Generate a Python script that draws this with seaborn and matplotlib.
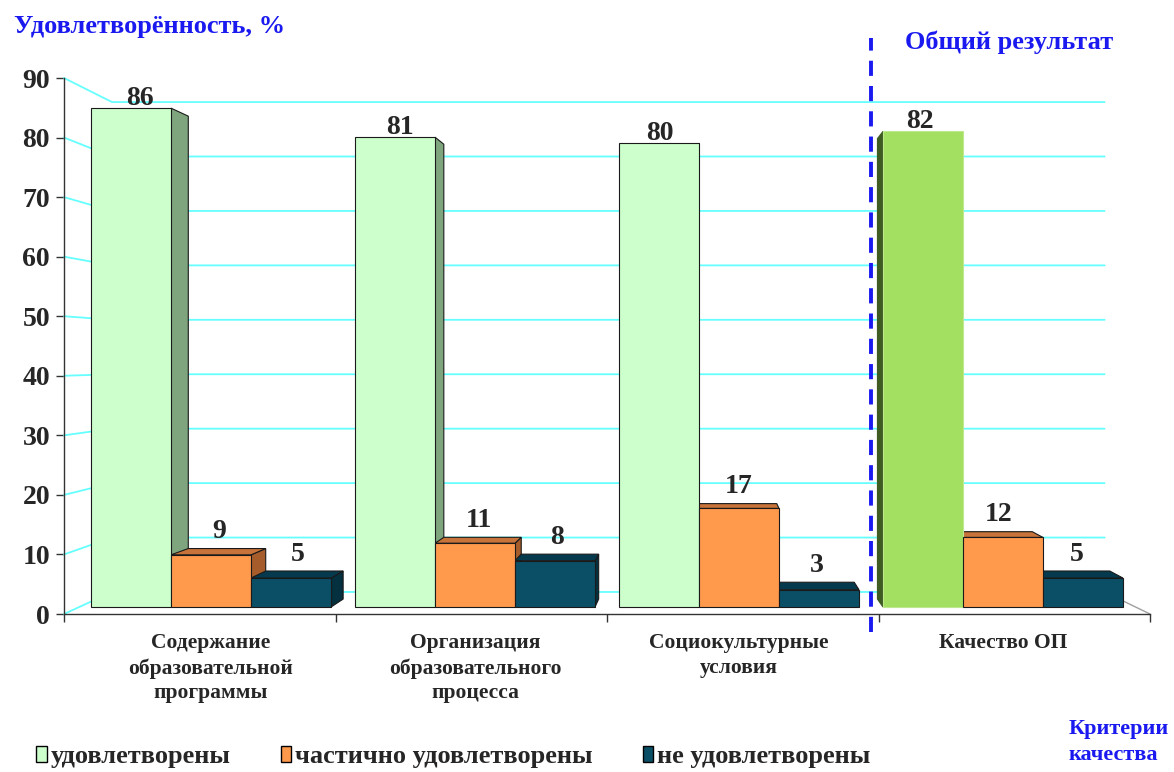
"""
plot.py
-------
Удовлетворённость качеством ОП: псевдо-3D столбики (seaborn + matplotlib).
"""

import matplotlib
matplotlib.use('Agg')
import matplotlib.pyplot as plt
import pandas as pd
import seaborn as sns
from matplotlib.patches import Polygon

# ── Data ───────────────────────────────────────────────────────────────
categories = ['Содержание\nобразовательной\nпрограммы',
              'Организация\nобразовательного\nпроцесса',
              'Социокультурные\nусловия',
              'Качество ОП']
series_names = ['удовлетворены', 'частично удовлетворены', 'не удовлетворены']
satisfied     = [86, 81, 80, 82]
partly        = [9, 11, 17, 12]
not_satisfied = [5, 8, 3, 5]
y_ticks = [0, 10, 20, 30, 40, 50, 60, 70, 80, 90]

# ── Style ──────────────────────────────────────────────────────────────
front_colors = ['#CCFFCC', '#FF9A4D', '#0B4F67']
top_colors   = ['#A8D4A8', '#C8733A', '#053A4E']
side_colors  = ['#7FA57F', '#A65C2B', '#04303F']
total_color, total_edge, total_side = '#A3DF60', '#BFE98F', '#3E5B22'
blue = '#1A1AF0'
grid_color = '#66FFFF'

sns.set_style('white')
plt.rcParams['font.family'] = ['Liberation Serif', 'DejaVu Serif']
plt.rcParams['font.weight'] = 'bold'

df = pd.DataFrame({
    'category': categories * 3,
    'group': [s for s in series_names for _ in categories],
    'value': satisfied + partly + not_satisfied,
})

fig = plt.figure(figsize=(11.74, 7.72), dpi=100)
rect = [64 / 1174, 1 - 614 / 772, (1150 - 64) / 1174, (614 - 78) / 772]
ax_w = fig.add_axes(rect)              # front axis + back walls
ax = fig.add_axes(rect, zorder=2)      # bars
ax.patch.set_alpha(0)

# ── Walls / grid (perspective towards a vanishing point) ──────────────
ax_w.set_xlim(0, 4)
ax_w.set_ylim(0, 90)
ax_w.set_yticks(y_ticks)
ax_w.set_xticks(range(5))
ax_w.set_xticklabels([])
ax_w.tick_params(axis='both', direction='out', length=6, width=1,
                 color='#333333', left=True, bottom=True)
ax_w.tick_params(axis='y', labelsize=20, pad=4)
for s in ['top', 'right']:
    ax_w.spines[s].set_visible(False)
for s in ['left', 'bottom']:
    ax_w.spines[s].set_color('#333333')
    ax_w.spines[s].set_linewidth(1)
ax_w.grid(False)

wvx, wvy, wk = 2.055, 43.0, 0.086


def wall_back(x, y):
    return x + wk * (wvx - x), y + wk * (wvy - y)


for v in y_ticks:
    bx0, by = wall_back(0, v)
    bx1, _ = wall_back(4, v)
    ax_w.plot([0, bx0, bx1], [v, by, by], color=grid_color, lw=1.3,
              clip_on=False, zorder=1)
bx1, by0 = wall_back(4, 0)
ax_w.plot([bx1, 4], [by0, 0], color='#A0A0A0', lw=1, clip_on=False)

# ── Bars ───────────────────────────────────────────────────────────────
sns.barplot(data=df, x='category', y='value', hue='group',
            order=categories, hue_order=series_names,
            palette=front_colors, width=0.909, saturation=1,
            edgecolor='#1a1a1a', linewidth=0.8, ax=ax)
ax.set_xlim(-0.557, 3.557)
ax.set_ylim(-1.2, 91.2)

bvx, bvy, bk = 1.89, 42.9, 0.032


def bar_back(x, y):
    return x + bk * (bvx - x), y + bk * (bvy - y)


for i, cont in enumerate(ax.containers):
    for j, bar in enumerate(cont):
        x0 = bar.get_x()
        x1 = x0 + bar.get_width()
        h = bar.get_height()
        bar.set_zorder(3)
        top_c, side_c, edge_c = top_colors[i], side_colors[i], '#1a1a1a'
        if i == 0 and j == len(cont) - 1:
            bar.set_facecolor(total_color)
            bar.set_edgecolor(total_edge)
            side_c, edge_c = total_side, total_side
        # side face
        xs = None
        if x1 < bvx:
            xs = x1
        elif x0 > bvx:
            xs = x0
        if xs is not None:
            pts = [(xs, 0), (xs, h), bar_back(xs, h), bar_back(xs, 0)]
            ax.add_patch(Polygon(pts, closed=True, facecolor=side_c,
                                 edgecolor=edge_c, lw=0.8, zorder=1))
        # top face
        if h < bvy:
            pts = [(x0, h), (x1, h), bar_back(x1, h), bar_back(x0, h)]
            ax.add_patch(Polygon(pts, closed=True, facecolor=top_c,
                                 edgecolor=edge_c, lw=0.8, zorder=2))
        # value label
        xc = (x0 + x1) / 2
        lx = xc + bk * (bvx - xc) / 2
        ly = bar_back(xc, h)[1] + 1.8 if h < bvy else h + 0.5
        ax.text(lx, ly, f'{h:.0f}', ha='center', va='baseline',
                fontsize=20, zorder=5)

# category labels
ax.set_xticks(range(len(categories)))
ax.set_xticklabels(categories, fontsize=15.5, linespacing=1.3)
ax.tick_params(axis='x', length=0, pad=14)
ax.set_yticks([])
ax.set_xlabel('')
ax.set_ylabel('')
for s in ax.spines.values():
    s.set_visible(False)

# separator before the overall result
ax.axvline(2.5, ymin=-0.034, ymax=1.075, clip_on=False, color=blue,
           lw=2.8, dashes=(3.9, 2.6), zorder=6)

# ── Legend ─────────────────────────────────────────────────────────────
old = ax.get_legend()
handles = old.legend_handles
labels = [t.get_text() for t in old.get_texts()]
old.remove()
for hd in handles:
    hd.set_edgecolor('black')
    hd.set_linewidth(1)
fig.legend(handles, labels, loc='center left',
           bbox_to_anchor=(36 / 1174, 15 / 772), ncol=3, frameon=False,
           fontsize=19, handlelength=0.4, handleheight=0.55,
           handletextpad=0.15, columnspacing=1.9, borderaxespad=0,
           borderpad=0)

# ── Texts ──────────────────────────────────────────────────────────────
fig.text(14 / 1174, 1 - 27 / 772, 'Удовлетворённость, %', color=blue,
         fontsize=19, ha='left', va='center')
fig.text(905 / 1174, 1 - 42 / 772, 'Общий результат', color=blue,
         fontsize=19, ha='left', va='center')
fig.text(1069 / 1174, 1 - 742 / 772, 'Критерии\nкачества', color=blue,
         fontsize=16, ha='left', va='center', linespacing=1.35)

fig.savefig('out.png', dpi=100)
plt.close(fig)
